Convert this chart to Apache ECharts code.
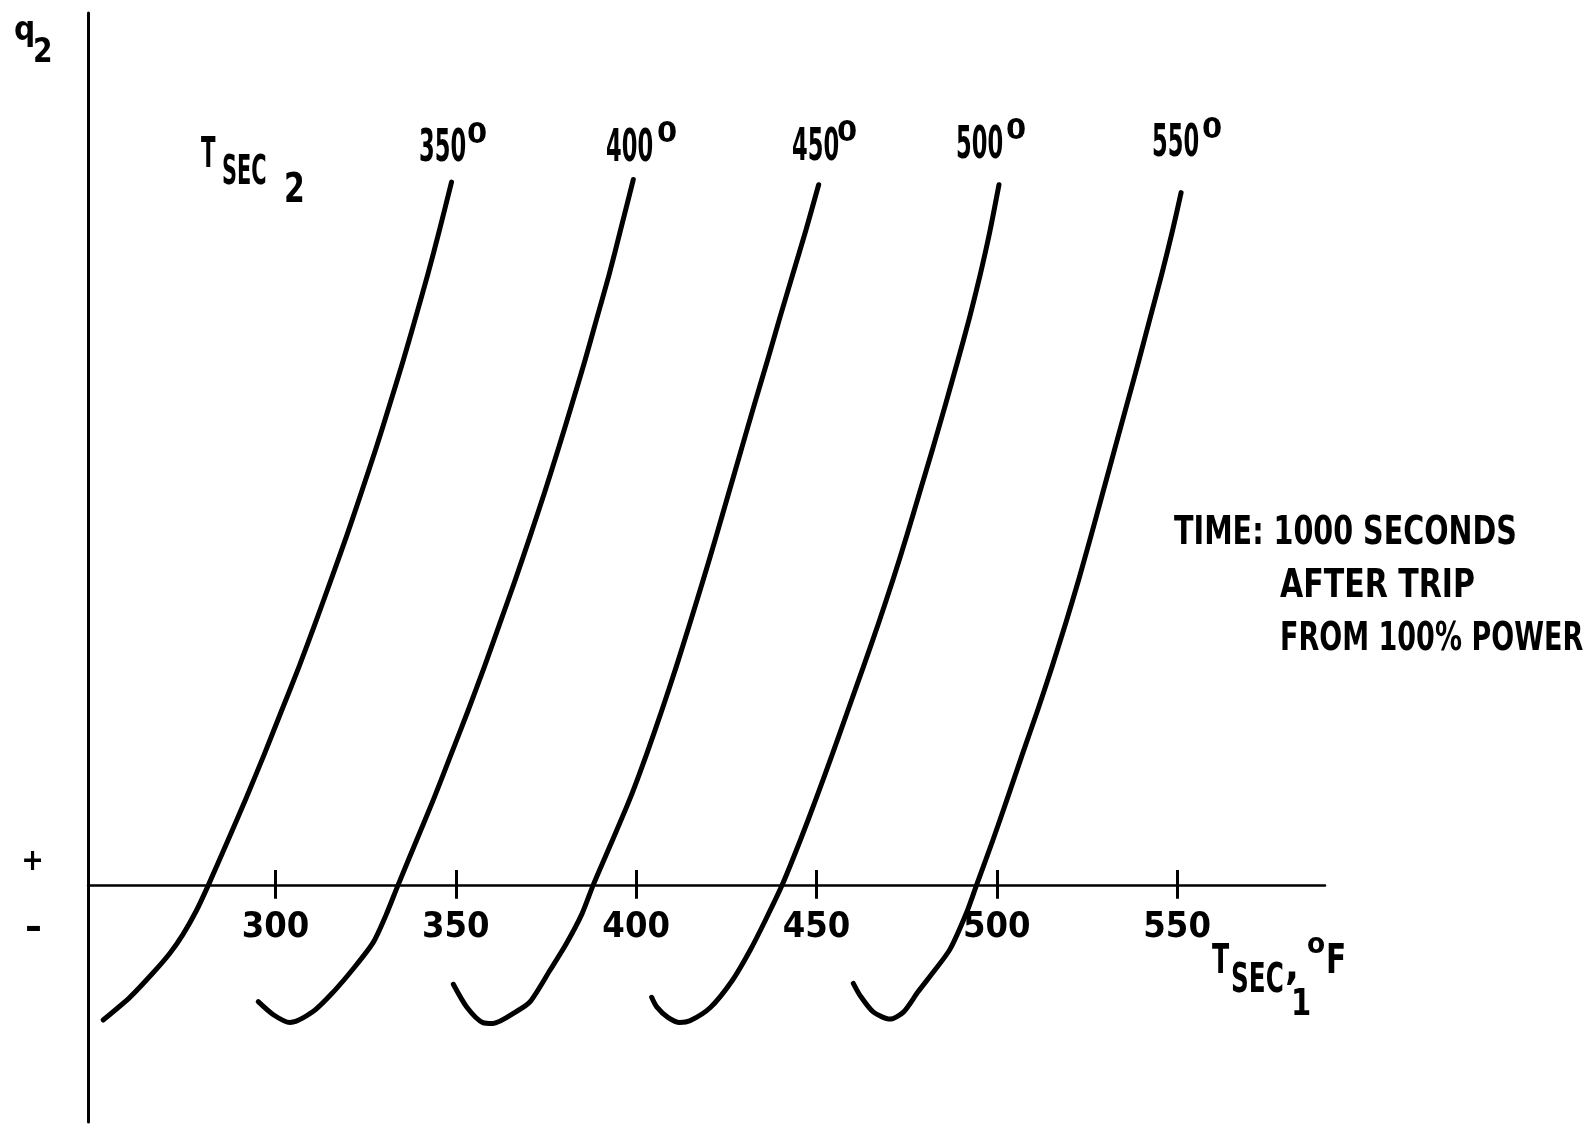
<!DOCTYPE html>
<html>
<head>
<meta charset="utf-8">
<script src="https://cdn.jsdelivr.net/npm/echarts@6/dist/echarts.min.js"></script>
<style>
html,body{margin:0;padding:0;background:#fff;}
#chart{width:1590px;height:1124px;}
</style>
</head>
<body>
<div id="chart"></div>
<script>
// ---- Data (T_SEC1 in deg F on x, q2 in arbitrary units: + above axis, - below) ----
const xTickValues = [300, 350, 400, 450, 500, 550];
const curveNames = ['350', '400', '450', '500', '550'];

const tsec1_350 = [252.2, 259.6, 265.8, 270.6, 274.3, 278.0, 281.4, 286.7, 291.9, 296.9, 301.7, 306.5, 311.0, 315.4, 319.7, 323.8, 327.8, 331.6, 335.3, 338.8, 342.2, 345.4, 348.8];
const q2_350    = [-15.5, -12.9, -10.2, -7.9, -5.7, -3.0, 0, 5, 10, 15, 20, 25, 30, 35, 40, 45, 50, 55, 60, 65, 70, 75, 80.6];

const tsec1_400 = [295.2, 299.4, 304.0, 310.5, 316.0, 321.6, 327.1, 330.6, 334.0, 339.0, 344.0, 348.7, 353.4, 357.9, 362.2, 366.5, 370.6, 374.6, 378.4, 382.1, 385.7, 389.1, 392.5, 395.6, 399.2];
const q2_400    = [-13.4, -14.9, -15.8, -14.5, -12.3, -9.6, -6.6, -3.5, 0, 5, 10, 15, 20, 25, 30, 35, 40, 45, 50, 55, 60, 65, 70, 75, 80.9];

const tsec1_450 = [349.3, 353.0, 357.5, 360.3, 366.9, 370.6, 376.1, 380.7, 385.0, 388.1, 393.3, 398.4, 402.9, 407.1, 411.1, 414.9, 418.6, 422.2, 425.7, 429.2, 432.7, 436.3, 439.8, 443.4, 447.0, 450.6];
const q2_450    = [-11.4, -14.0, -15.8, -15.9, -14.5, -13.4, -9.8, -6.7, -3.3, 0, 5, 10, 15, 20, 25, 30, 35, 40, 45, 50, 55, 60, 65, 70, 75, 80.3];

const tsec1_500 = [404.3, 405.7, 408.8, 412.1, 414.9, 420.5, 426.6, 431.6, 435.9, 440.5, 445.4, 450.0, 454.4, 458.7, 463.0, 467.2, 471.2, 475.0, 478.6, 482.2, 485.7, 489.1, 492.4, 495.4, 498.1, 500.6];
const q2_500    = [-12.9, -14.0, -15.2, -15.8, -15.6, -14.1, -11.0, -7.5, -4.0, 0, 5, 10, 15, 20, 25, 30, 35, 40, 45, 50, 55, 60, 65, 70, 75, 80.3];

const tsec1_550 = [460.2, 462.1, 465.8, 470.4, 474.1, 478.1, 482.4, 487.0, 491.6, 494.4, 498.8, 503.0, 507.1, 511.3, 515.3, 519.1, 522.7, 526.1, 529.4, 532.7, 536.0, 539.3, 542.5, 545.7, 548.7, 551.1];
const q2_550    = [-11.3, -12.7, -14.6, -15.4, -14.6, -12.3, -10.0, -7.4, -3.2, 0, 5, 10, 15, 20, 25, 30, 35, 40, 45, 50, 55, 60, 65, 70, 75, 79.4];

const noteLines = ['TIME: 1000 SECONDS', 'AFTER TRIP', 'FROM 100% POWER'];

// ---- Build chart ----
const FF = "'DejaVu Sans Condensed','Liberation Sans Narrow','Liberation Sans',sans-serif";
const curvesX = [tsec1_350, tsec1_400, tsec1_450, tsec1_500, tsec1_550];
const curvesY = [q2_350, q2_400, q2_450, q2_500, q2_550];

function pairs(xs, ys) { return xs.map((x, i) => [x, ys[i]]); }

const series = curvesX.map((xs, k) => ({
  name: curveNames[k],
  type: 'line',
  xAxisIndex: 0, yAxisIndex: 0,
  data: pairs(xs, curvesY[k]),
  showSymbol: false,
  smooth: 0.25,
  lineStyle: { color: '#000', width: 5, cap: 'round', join: 'round' },
  silent: true,
  animation: false
}));

function txt(x, y, text, size, sx, align) {
  return {
    type: 'text', x: x, y: y, scaleX: sx || 1, silent: true,
    style: {
      text: text, font: 'bold ' + size + 'px ' + FF, fill: '#000',
      align: align || 'left', verticalAlign: 'middle',
      textAlign: align || 'left', textVerticalAlign: 'middle'
    }
  };
}

const graphics = [];
// y-axis title q2
graphics.push(txt(14, 31, 'q', 33, 1.0));
graphics.push(txt(33, 53.5, '2', 34, 0.92));
// + / - signs
graphics.push(txt(32.5, 862, '+', 30, 1, 'center'));
graphics.push(txt(33.5, 930, '-', 36, 1.3, 'center'));
// T_SEC2 legend title
graphics.push(txt(201, 156, 'T', 43, 0.55));
graphics.push(txt(222, 174, 'SEC', 40, 0.58));
graphics.push(txt(284, 192, '2', 40, 0.83));
// curve labels
const labelPos = [[419, 150, 467, 136], [606, 150, 657, 135], [792, 149, 837, 134], [956, 146.5, 1006, 132], [1152, 145, 1202, 131]];
curveNames.forEach((n, k) => {
  const p = labelPos[k];
  graphics.push(txt(p[0], p[1], n, 44, 0.57));
  graphics.push(txt(p[2], p[3], '0', 28, 1.15));
});
// note text
const notePos = [[1174, 534, 0.815], [1280, 587, 0.855], [1280, 640, 0.77]];
noteLines.forEach((t, i) => graphics.push(txt(notePos[i][0], notePos[i][1], t, 39, notePos[i][2])));
// x-axis name: T_SEC1, oF
graphics.push(txt(1212, 962.5, 'T', 40, 0.7));
graphics.push(txt(1231, 981, 'SEC', 41, 0.67));
graphics.push(txt(1285, 968, ',', 41, 1));
graphics.push(txt(1291, 1005, '1', 38, 0.85));
graphics.push(txt(1307, 946, 'o', 28, 1.05));
graphics.push(txt(1326, 962, 'F', 41, 0.8));

const option = {
  backgroundColor: '#fff',
  animation: false,
  grid: [
    { left: 88, right: 265, top: 13, bottom: 2, outerBoundsMode: 'none' },
    { left: 88, right: 265, top: 13, height: 872, outerBoundsMode: 'none' },
    { left: 95.21, right: 265, top: 13, height: 872, outerBoundsMode: 'none' }
  ],
  xAxis: [
    {
      type: 'value', gridIndex: 0, min: 248, max: 591,
      axisLine: { show: true, onZero: true, lineStyle: { color: '#000', width: 2.5 } },
      axisTick: { show: true, inside: false, length: 14, customValues: xTickValues, lineStyle: { color: '#000', width: 3 } },
      axisLabel: { show: false },
      splitLine: { show: false }
    },
    {
      type: 'value', gridIndex: 1, min: 248, max: 591, position: 'bottom',
      axisLine: { show: false },
      axisTick: { show: true, inside: true, length: 15, customValues: xTickValues, lineStyle: { color: '#000', width: 3 } },
      axisLabel: { show: false },
      splitLine: { show: false }
    },
    {
      type: 'value', gridIndex: 2, min: 250, max: 591, interval: 50, position: 'bottom',
      axisLine: { show: false },
      axisTick: { show: false },
      axisLabel: {
        show: true, margin: 25, color: '#000', fontSize: 36, fontWeight: 'bold', fontFamily: FF,
        showMinLabel: true, showMaxLabel: false,
        formatter: function (v) { return xTickValues.indexOf(v) >= 0 ? String(v) : ''; }
      },
      splitLine: { show: false }
    }
  ],
  yAxis: [
    {
      type: 'value', gridIndex: 0, min: -27.2, max: 100,
      axisLine: { show: true, onZero: false, lineStyle: { color: '#000', width: 3 } },
      axisTick: { show: false }, axisLabel: { show: false }, splitLine: { show: false }
    },
    {
      type: 'value', gridIndex: 1, min: 0, max: 1, show: false,
      axisLine: { show: false }, splitLine: { show: false }
    },
    {
      type: 'value', gridIndex: 2, min: 0, max: 1, show: false,
      axisLine: { show: false }, splitLine: { show: false }
    }
  ],
  series: series,
  graphic: graphics
};

const chart = echarts.init(document.getElementById('chart'), null, { renderer: 'canvas' });
chart.setOption(option);
</script>
</body>
</html>
